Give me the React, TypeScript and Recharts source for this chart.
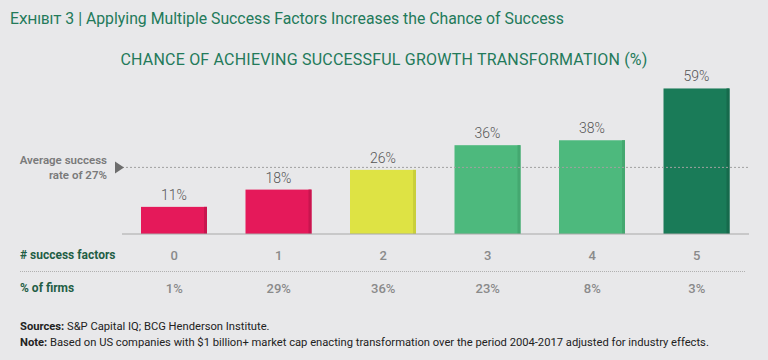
import { BarChart, Bar, XAxis, YAxis, Cell, LabelList, ReferenceLine } from "recharts";

const factors = ["0", "1", "2", "3", "4", "5"];
const successRate = [11, 18, 26, 36, 38, 59];
const firmShare = ["1%", "29%", "36%", "23%", "8%", "3%"];
const barColors = ["#e5195a", "#e5195a", "#dee344", "#4db97d", "#4db97d", "#1a7b58"];
const edgeColors = ["#c8154e", "#c8154e", "#c9cf3a", "#44a870", "#44a870", "#166a4c"];
const averageRate = 27;

const data = factors.map((f, i) => ({ factor: f, rate: successRate[i], firms: firmShare[i] }));

const FONT = "Roboto, 'Noto Sans', sans-serif";
const GREEN = "#237a5a";

function ShadedBar(props: any) {
  const { x, y, width, height, index } = props;
  if (!height) return null;
  return (
    <g>
      <rect x={x} y={y} width={width} height={height} fill={barColors[index]} />
      <rect x={x + width - 3} y={y} width={3} height={height} fill={edgeColors[index]} />
    </g>
  );
}

function FactorTick(props: any) {
  const { x, payload, index } = props;
  return (
    <g>
      <text x={x} y={260} textAnchor="middle" fontSize={13} fontWeight={500} fill="#8a8a8a" fontFamily={FONT}>
        {payload.value}
      </text>
      <text x={x} y={293} textAnchor="middle" fontSize={13} fontWeight={500} fill="#8a8a8a" fontFamily={FONT}>
        {firmShare[index]}
      </text>
    </g>
  );
}

function AverageLabel(props: any) {
  const vb = props.viewBox;
  const ly = vb.y;
  const lx = vb.x;
  return (
    <g fontFamily={FONT}>
      <polygon points={`${lx - 7},${ly - 6} ${lx + 2},${ly} ${lx - 7},${ly + 6}`} fill="#6d6d6d" />
      <text x={lx - 15} y={ly - 3} textAnchor="end" fontSize={11.5} fontWeight={600} fill="#7a7a7a">
        Average success
      </text>
      <text x={lx - 15} y={ly + 12} textAnchor="end" fontSize={11.5} fontWeight={600} fill="#7a7a7a">
        rate of {averageRate}%
      </text>
    </g>
  );
}

export default function App() {
  return (
    <div
      style={{
        position: "absolute",
        left: 0,
        top: 0,
        width: 768,
        height: 360,
        background: "#e8e8ea",
        fontFamily: FONT,
        overflow: "hidden",
      }}
    >
      <div style={{ position: "absolute", left: 10, top: 9, fontSize: 15.8, color: GREEN, whiteSpace: "nowrap" }}>
        <span style={{ fontVariant: "small-caps" }}>Exhibit 3</span> | Applying Multiple Success Factors Increases the
        Chance of Success
      </div>
      <div
        style={{
          position: "absolute",
          left: 0,
          width: 768,
          top: 50,
          textAlign: "center",
          fontSize: 16,
          color: GREEN,
          letterSpacing: 0.2,
          whiteSpace: "nowrap",
        }}
      >
        CHANCE OF ACHIEVING SUCCESSFUL GROWTH TRANSFORMATION (%)
      </div>

      <div style={{ position: "absolute", top: 0, left: 0 }}>
        <BarChart width={768} height={360} data={data} margin={{ top: 86, right: 19, bottom: 0, left: 122 }}>
          <YAxis hide domain={[0, 60]} width={0} />
          <XAxis
            dataKey="factor"
            height={126}
            tickLine={false}
            axisLine={{ stroke: "#a8a8a8", strokeWidth: 1 }}
            tick={<FactorTick />}
            interval={0}
          />
          <ReferenceLine
            y={averageRate}
            stroke="#a0a0a0"
            strokeDasharray="2 2"
            label={<AverageLabel />}
          />
          <Bar dataKey="rate" barSize={66} isAnimationActive={false} shape={<ShadedBar />}>
            {data.map((d, i) => (
              <Cell key={d.factor} fill={barColors[i]} />
            ))}
            <LabelList
              dataKey="rate"
              position="top"
              offset={7}
              formatter={(v: any) => `${v}%`}
              style={{ fontSize: 14, fill: "#555", fontFamily: FONT, fontWeight: 300 }}
            />
          </Bar>
        </BarChart>
      </div>

      <div style={{ position: "absolute", left: 20, top: 248, fontSize: 12, fontWeight: 700, color: "#1f5e45" }}>
        # success factors
      </div>
      <div
        style={{ position: "absolute", left: 20, top: 271, width: 725, borderTop: "1px dotted #b0b0b0" }}
      />
      <div style={{ position: "absolute", left: 20, top: 281, fontSize: 12, fontWeight: 700, color: "#1f5e45" }}>
        % of firms
      </div>

      <div style={{ position: "absolute", left: 20, top: 320, fontSize: 11.2, color: "#222", whiteSpace: "nowrap" }}>
        <b>Sources:</b> S&amp;P Capital IQ; BCG Henderson Institute.
      </div>
      <div style={{ position: "absolute", left: 20, top: 336, fontSize: 11.2, color: "#222", whiteSpace: "nowrap" }}>
        <b>Note:</b> Based on US companies with $1 billion+ market cap enacting transformation over the period
        2004-2017 adjusted for industry effects.
      </div>
    </div>
  );
}
